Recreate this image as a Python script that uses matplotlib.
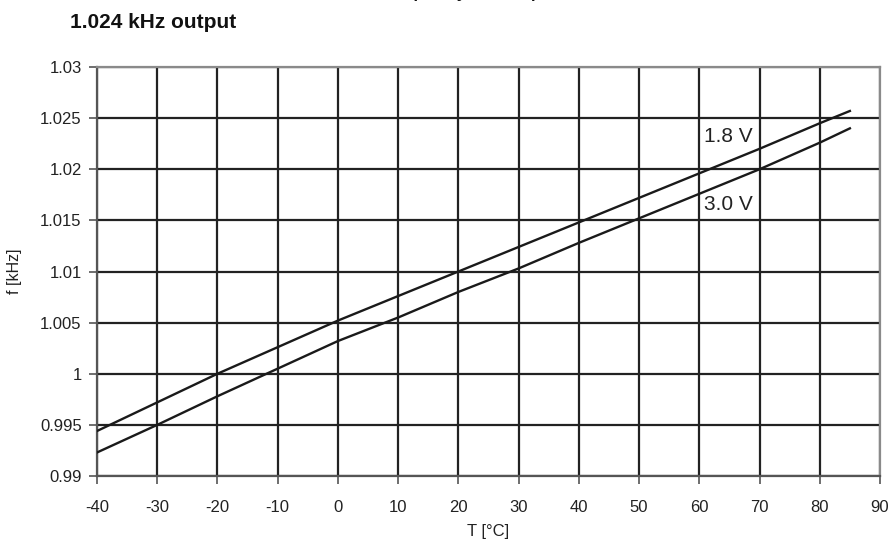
import numpy as np
import matplotlib as mpl
mpl.use('Agg')
import matplotlib.pyplot as plt

plt.rcParams['font.family'] = ['Liberation Sans', 'DejaVu Sans']

# temperature points (deg C)
temps = [-40, -30, -20, -10, 0, 10, 20, 30, 40, 50, 60, 70, 80, 85]
# frequency (kHz) at each supply voltage
f_18v = [0.9944, 0.9972, 1.0000, 1.0026, 1.0052, 1.0076, 1.0100,
         1.0124, 1.0148, 1.0172, 1.0196, 1.0220, 1.0245, 1.0257]
f_30v = [0.9923, 0.9950, 0.9978, 1.0005, 1.0032, 1.0055, 1.0080,
         1.0103, 1.0128, 1.0152, 1.0176, 1.0200, 1.0226, 1.0240]

xticks = list(range(-40, 91, 10))
yticks = [0.99, 0.995, 1, 1.005, 1.01, 1.015, 1.02, 1.025, 1.03]
ytick_labels = ['0.99', '0.995', '1', '1.005', '1.01', '1.015', '1.02', '1.025', '1.03']

fig = plt.figure(figsize=(8.95, 5.48), dpi=100)
ax = fig.add_axes([97/895, 1-476/548, (880-97)/895, (476-67)/548])

ax.plot(temps, f_18v, color='#1a1a1a', lw=1.7, zorder=3)
ax.plot(temps, f_30v, color='#1a1a1a', lw=1.7, zorder=3)

ax.set_xlim(-40, 90)
ax.set_ylim(0.99, 1.03)
ax.set_xticks(xticks)
ax.set_xticklabels([str(t) for t in xticks])
ax.set_yticks(yticks)
ax.set_yticklabels(ytick_labels)
ax.grid(True, color='#222222', lw=1.6)
ax.set_axisbelow(True)

for s in ax.spines.values():
    s.set_color('#8a8a8a')
    s.set_linewidth(1.6)
ax.spines['left'].set_color('#555555')
ax.spines['bottom'].set_color('#555555')
ax.tick_params(direction='out', length=6, width=1.2, color='#555555',
               labelsize=12, labelcolor='#222222', pad=5)
ax.tick_params(axis='x', pad=11)

ax.set_xlabel('T [°C]', fontsize=12, color='#222222', labelpad=7)
ax.set_ylabel('f [kHz]', fontsize=11.5, color='#222222', labelpad=13)

ax.text(60.7, 1.0227, '1.8 V', fontsize=15, color='#222222', va='baseline', ha='left')
ax.text(60.7, 1.0160, '3.0 V', fontsize=15, color='#222222', va='baseline', ha='left')

fig.text(70/895, 1-28/548, '1.024 kHz output', fontsize=15, fontweight='bold',
         va='baseline', ha='left', color='#111111')
# heading of the page above, cut off by the crop
fig.text(490/895, 1+2/548, 'Frequency vs. Temperature', fontsize=12, fontweight='bold',
         va='baseline', ha='center', color='#111111')

fig.savefig('out.png', dpi=100)
